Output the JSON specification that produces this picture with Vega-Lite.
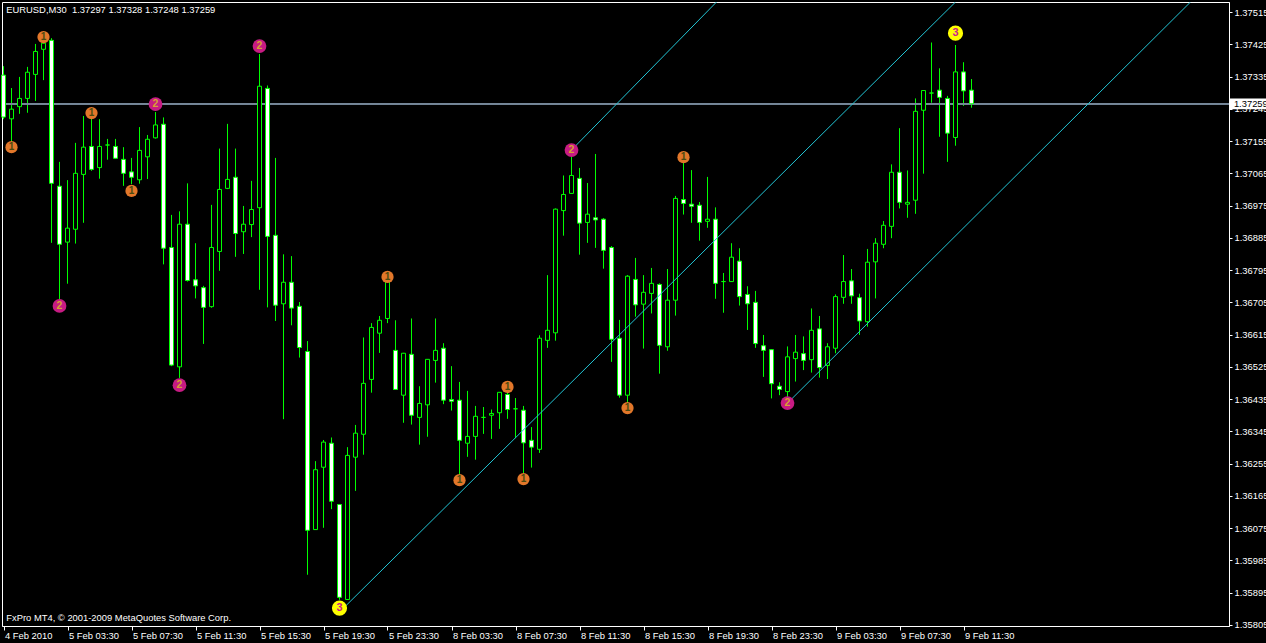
{
"$schema":"https://vega.github.io/schema/vega-lite/v6.json",
"width":1227,"height":624,
"autosize":{"type":"none"},
"padding":{"left":2,"top":2,"right":37,"bottom":17},
"background":"black",
"config":{"view":{"stroke":"white","strokeWidth":1,"fill":"black"},
"axis":{"domainColor":"white","tickColor":"white","labelColor":"white","labelFont":"Liberation Sans","labelFontSize":9.4,"grid":false,"title":null,"labelOverlap":false,"labelFlush":false,"labelBound":false,"labelSeparation":0}},
"datasets":{
"candles":[
{"i":0,"o":1.37339,"h":1.37364,"l":1.37216,"c":1.37222},
{"i":1,"o":1.37217,"h":1.37303,"l":1.37155,"c":1.37244},
{"i":2,"o":1.37251,"h":1.37334,"l":1.37231,"c":1.37274},
{"i":3,"o":1.37274,"h":1.37362,"l":1.37234,"c":1.37347},
{"i":4,"o":1.37341,"h":1.37426,"l":1.37267,"c":1.37405},
{"i":5,"o":1.37411,"h":1.37434,"l":1.37325,"c":1.37428},
{"i":6,"o":1.37436,"h":1.37442,"l":1.36871,"c":1.37037},
{"i":7,"o":1.37029,"h":1.37097,"l":1.36714,"c":1.36867},
{"i":8,"o":1.36873,"h":1.37046,"l":1.36757,"c":1.36912},
{"i":9,"o":1.36909,"h":1.37150,"l":1.36869,"c":1.37065},
{"i":10,"o":1.37062,"h":1.37225,"l":1.36927,"c":1.37138},
{"i":11,"o":1.37140,"h":1.37222,"l":1.37072,"c":1.37076},
{"i":12,"o":1.37081,"h":1.37216,"l":1.37050,"c":1.37140},
{"i":13,"o":1.37144,"h":1.37161,"l":1.37103,"c":1.37144},
{"i":14,"o":1.37140,"h":1.37161,"l":1.37107,"c":1.37107},
{"i":15,"o":1.37104,"h":1.37138,"l":1.37030,"c":1.37065},
{"i":16,"o":1.37069,"h":1.37108,"l":1.37035,"c":1.37054},
{"i":17,"o":1.37047,"h":1.37194,"l":1.37036,"c":1.37129},
{"i":18,"o":1.37111,"h":1.37172,"l":1.37049,"c":1.37160},
{"i":19,"o":1.37164,"h":1.37236,"l":1.37162,"c":1.37200},
{"i":20,"o":1.37202,"h":1.37221,"l":1.36811,"c":1.36856},
{"i":21,"o":1.36858,"h":1.36949,"l":1.36527,"c":1.36530},
{"i":22,"o":1.36525,"h":1.36959,"l":1.36494,"c":1.36923},
{"i":23,"o":1.36923,"h":1.37037,"l":1.36763,"c":1.36766},
{"i":24,"o":1.36768,"h":1.36870,"l":1.36716,"c":1.36751},
{"i":25,"o":1.36746,"h":1.36751,"l":1.36589,"c":1.36691},
{"i":26,"o":1.36693,"h":1.36977,"l":1.36690,"c":1.36858},
{"i":27,"o":1.36847,"h":1.37134,"l":1.36793,"c":1.37020},
{"i":28,"o":1.37023,"h":1.37203,"l":1.37021,"c":1.37048},
{"i":29,"o":1.37054,"h":1.37134,"l":1.36832,"c":1.36897},
{"i":30,"o":1.36902,"h":1.36974,"l":1.36840,"c":1.36923},
{"i":31,"o":1.36922,"h":1.37044,"l":1.36887,"c":1.36964},
{"i":32,"o":1.36969,"h":1.37398,"l":1.36740,"c":1.37308},
{"i":33,"o":1.37302,"h":1.37310,"l":1.36691,"c":1.36889},
{"i":34,"o":1.36892,"h":1.37108,"l":1.36653,"c":1.36697},
{"i":35,"o":1.36701,"h":1.36839,"l":1.36379,"c":1.36761},
{"i":36,"o":1.36761,"h":1.36834,"l":1.36641,"c":1.36689},
{"i":37,"o":1.36694,"h":1.36706,"l":1.36551,"c":1.36579},
{"i":38,"o":1.36568,"h":1.36597,"l":1.35945,"c":1.36069},
{"i":39,"o":1.36071,"h":1.36262,"l":1.36070,"c":1.36238},
{"i":40,"o":1.36245,"h":1.36321,"l":1.36076,"c":1.36315},
{"i":41,"o":1.36312,"h":1.36328,"l":1.36128,"c":1.36150},
{"i":42,"o":1.36141,"h":1.36142,"l":1.35875,"c":1.35882},
{"i":43,"o":1.35876,"h":1.36301,"l":1.35875,"c":1.36278},
{"i":44,"o":1.36273,"h":1.36363,"l":1.36179,"c":1.36340},
{"i":45,"o":1.36337,"h":1.36607,"l":1.36280,"c":1.36479},
{"i":46,"o":1.36490,"h":1.36647,"l":1.36453,"c":1.36635},
{"i":47,"o":1.36619,"h":1.36667,"l":1.36564,"c":1.36655},
{"i":48,"o":1.36660,"h":1.36765,"l":1.36647,"c":1.36762},
{"i":49,"o":1.36571,"h":1.36655,"l":1.36462,"c":1.36462},
{"i":50,"o":1.36446,"h":1.36564,"l":1.36369,"c":1.36563},
{"i":51,"o":1.36560,"h":1.36660,"l":1.36364,"c":1.36390},
{"i":52,"o":1.36384,"h":1.36471,"l":1.36308,"c":1.36423},
{"i":53,"o":1.36419,"h":1.36546,"l":1.36330,"c":1.36546},
{"i":54,"o":1.36543,"h":1.36660,"l":1.36481,"c":1.36571},
{"i":55,"o":1.36577,"h":1.36591,"l":1.36421,"c":1.36432},
{"i":56,"o":1.36434,"h":1.36527,"l":1.36403,"c":1.36429},
{"i":57,"o":1.36432,"h":1.36483,"l":1.36226,"c":1.36320},
{"i":58,"o":1.36312,"h":1.36458,"l":1.36274,"c":1.36331},
{"i":59,"o":1.36331,"h":1.36416,"l":1.36266,"c":1.36387},
{"i":60,"o":1.36384,"h":1.36413,"l":1.36338,"c":1.36384},
{"i":61,"o":1.36390,"h":1.36406,"l":1.36324,"c":1.36395},
{"i":62,"o":1.36397,"h":1.36455,"l":1.36352,"c":1.36454},
{"i":63,"o":1.36448,"h":1.36458,"l":1.36380,"c":1.36406},
{"i":64,"o":1.36408,"h":1.36438,"l":1.36326,"c":1.36408},
{"i":65,"o":1.36404,"h":1.36416,"l":1.36228,"c":1.36313},
{"i":66,"o":1.36320,"h":1.36357,"l":1.36244,"c":1.36301},
{"i":67,"o":1.36295,"h":1.36613,"l":1.36285,"c":1.36605},
{"i":68,"o":1.36599,"h":1.36781,"l":1.36578,"c":1.36627},
{"i":69,"o":1.36620,"h":1.36967,"l":1.36598,"c":1.36965},
{"i":70,"o":1.36961,"h":1.37059,"l":1.36891,"c":1.37006},
{"i":71,"o":1.37009,"h":1.37111,"l":1.37008,"c":1.37059},
{"i":72,"o":1.37051,"h":1.37080,"l":1.36838,"c":1.36926},
{"i":73,"o":1.36928,"h":1.37038,"l":1.36871,"c":1.36951},
{"i":74,"o":1.36941,"h":1.37119,"l":1.36857,"c":1.36935},
{"i":75,"o":1.36937,"h":1.36940,"l":1.36799,"c":1.36850},
{"i":76,"o":1.36858,"h":1.36862,"l":1.36539,"c":1.36602},
{"i":77,"o":1.36605,"h":1.36656,"l":1.36439,"c":1.36446},
{"i":78,"o":1.36446,"h":1.36781,"l":1.36423,"c":1.36778},
{"i":79,"o":1.36769,"h":1.36829,"l":1.36665,"c":1.36698},
{"i":80,"o":1.36700,"h":1.36781,"l":1.36576,"c":1.36733},
{"i":81,"o":1.36730,"h":1.36801,"l":1.36674,"c":1.36758},
{"i":82,"o":1.36755,"h":1.36758,"l":1.36506,"c":1.36585},
{"i":83,"o":1.36581,"h":1.36798,"l":1.36570,"c":1.36711},
{"i":84,"o":1.36711,"h":1.37002,"l":1.36668,"c":1.36995},
{"i":85,"o":1.36992,"h":1.37097,"l":1.36950,"c":1.36981},
{"i":86,"o":1.36979,"h":1.37074,"l":1.36927,"c":1.36973},
{"i":87,"o":1.36976,"h":1.36985,"l":1.36877,"c":1.36928},
{"i":88,"o":1.36931,"h":1.37055,"l":1.36913,"c":1.36937},
{"i":89,"o":1.36937,"h":1.36970,"l":1.36715,"c":1.36758},
{"i":90,"o":1.36763,"h":1.36787,"l":1.36676,"c":1.36763},
{"i":91,"o":1.36763,"h":1.36870,"l":1.36762,"c":1.36831},
{"i":92,"o":1.36820,"h":1.36856,"l":1.36696,"c":1.36721},
{"i":93,"o":1.36727,"h":1.36750,"l":1.36628,"c":1.36701},
{"i":94,"o":1.36705,"h":1.36737,"l":1.36578,"c":1.36590},
{"i":95,"o":1.36584,"h":1.36614,"l":1.36497,"c":1.36571},
{"i":96,"o":1.36573,"h":1.36574,"l":1.36437,"c":1.36478},
{"i":97,"o":1.36471,"h":1.36482,"l":1.36446,"c":1.36462},
{"i":98,"o":1.36456,"h":1.36582,"l":1.36428,"c":1.36553},
{"i":99,"o":1.36548,"h":1.36614,"l":1.36484,"c":1.36566},
{"i":100,"o":1.36562,"h":1.36610,"l":1.36516,"c":1.36543},
{"i":101,"o":1.36545,"h":1.36688,"l":1.36509,"c":1.36627},
{"i":102,"o":1.36631,"h":1.36667,"l":1.36495,"c":1.36523},
{"i":103,"o":1.36529,"h":1.36591,"l":1.36491,"c":1.36581},
{"i":104,"o":1.36577,"h":1.36727,"l":1.36563,"c":1.36721},
{"i":105,"o":1.36719,"h":1.36837,"l":1.36701,"c":1.36763},
{"i":106,"o":1.36765,"h":1.36798,"l":1.36701,"c":1.36723},
{"i":107,"o":1.36718,"h":1.36729,"l":1.36614,"c":1.36653},
{"i":108,"o":1.36651,"h":1.36854,"l":1.36637,"c":1.36817},
{"i":109,"o":1.36818,"h":1.36884,"l":1.36716,"c":1.36870},
{"i":110,"o":1.36867,"h":1.36932,"l":1.36856,"c":1.36920},
{"i":111,"o":1.36917,"h":1.37090,"l":1.36884,"c":1.37068},
{"i":112,"o":1.37068,"h":1.37191,"l":1.36967,"c":1.36984},
{"i":113,"o":1.36979,"h":1.37073,"l":1.36941,"c":1.36984},
{"i":114,"o":1.36990,"h":1.37274,"l":1.36952,"c":1.37238},
{"i":115,"o":1.37241,"h":1.37297,"l":1.37064,"c":1.37296},
{"i":116,"o":1.37289,"h":1.37430,"l":1.37262,"c":1.37289},
{"i":117,"o":1.37297,"h":1.37358,"l":1.37167,"c":1.37277},
{"i":118,"o":1.37274,"h":1.37281,"l":1.37097,"c":1.37177},
{"i":119,"o":1.37165,"h":1.37423,"l":1.37142,"c":1.37348},
{"i":120,"o":1.37348,"h":1.37375,"l":1.37253,"c":1.37295},
{"i":121,"o":1.37297,"h":1.37328,"l":1.37248,"c":1.37259}
],
"markers":[
{"i":1,"p":1.37138,"n":1},{"i":5,"p":1.37445,"n":1},{"i":11,"p":1.37233,"n":1},{"i":16,"p":1.37016,"n":1},{"i":48,"p":1.36776,"n":1},{"i":57,"p":1.36209,"n":1},{"i":63,"p":1.36469,"n":1},{"i":65,"p":1.36212,"n":1},{"i":78,"p":1.36410,"n":1},{"i":85,"p":1.37110,"n":1},
{"i":7,"p":1.36695,"n":2},{"i":19,"p":1.37258,"n":2},{"i":22,"p":1.36474,"n":2},{"i":32,"p":1.37420,"n":2},{"i":71,"p":1.37130,"n":2},{"i":98,"p":1.36424,"n":2},
{"i":42,"p":1.35852,"n":3},{"i":119,"p":1.37456,"n":3}
],
"lines":[
{"g":"A","i":71,"p":1.37130},{"g":"A","i":89.125,"p":1.37543},
{"g":"B","i":42.5,"p":1.35852},{"g":"B","i":119,"p":1.37543},
{"g":"C","i":98,"p":1.36424},{"g":"C","i":148.375,"p":1.37543}
],
"texts":[
{"t":"EURUSD,M30\u00a0 1.37297 1.37328 1.37248 1.37259","x":0.35,"y":1.37511},
{"t":"FxPro MT4, © 2001-2009 MetaQuotes Software Corp.","x":0.35,"y":1.35817}
]
},
"resolve":{"scale":{"color":"independent","size":"independent"}},
"layer":[
{"data":{"name":"candles"},"mark":{"type":"rule","color":"#00FF00","strokeWidth":1},
 "encoding":{
  "x":{"field":"i","type":"quantitative","scale":{"domain":[-0.1875,153.1875],"nice":false,"zero":false,"padding":0},
   "axis":{"orient":"bottom","values":[0,8,16,24,32,40,48,56,64,72,80,88,96,104,112,120],"tickCount":40,
    "labelExpr":"['4 Feb 2010','5 Feb 03:30','5 Feb 07:30','5 Feb 11:30','5 Feb 15:30','5 Feb 19:30','5 Feb 23:30','8 Feb 03:30','8 Feb 07:30','8 Feb 11:30','8 Feb 15:30','8 Feb 19:30','8 Feb 23:30','9 Feb 03:30','9 Feb 07:30','9 Feb 11:30'][round(datum.value/8)]",
    "labelAlign":"left","labelOffset":1,"tickSize":4,"labelPadding":1,"labelOverlap":false,"labelFlush":false,"labelBound":false}},
  "y":{"field":"l","type":"quantitative","scale":{"domain":[1.35802,1.37543],"nice":false,"zero":false,"padding":0},
   "axis":{"orient":"right","values":[1.35805,1.35895,1.35985,1.36075,1.36165,1.36255,1.36345,1.36435,1.36525,1.36615,1.36705,1.36795,1.36885,1.36975,1.37065,1.37155,1.37245,1.37335,1.37425,1.37515],"tickCount":40,
    "format":".5f","tickSize":3,"labelPadding":2,"labelOverlap":false,"labelFlush":false,"labelBound":false}},
  "y2":{"field":"h"}}},
{"data":{"name":"candles"},"mark":{"type":"rule","color":"#778899","strokeWidth":1},
 "encoding":{"y":{"datum":1.37259,"type":"quantitative"}}},
{"data":{"name":"candles"},"mark":{"type":"bar","width":4,"stroke":"#00FF00","strokeWidth":1},
 "encoding":{
  "x":{"field":"i","type":"quantitative"},
  "y":{"field":"o","type":"quantitative"},
  "y2":{"field":"c"},
  "fill":{"condition":{"test":"datum.o > datum.c","value":"#FFFFFF"},"value":"#000000"}}},
{"data":{"name":"lines"},"mark":{"type":"line","color":"#22C4D4","strokeWidth":1,"clip":true},
 "encoding":{"x":{"field":"i","type":"quantitative"},"y":{"field":"p","type":"quantitative"},"detail":{"field":"g"}}},
{"data":{"name":"markers"},"mark":{"type":"point","shape":"circle","filled":true,"opacity":1,"strokeWidth":0},
 "encoding":{"x":{"field":"i","type":"quantitative"},"y":{"field":"p","type":"quantitative"},
  "color":{"field":"n","type":"ordinal","scale":{"domain":[1,2,3],"range":["#E2772A","#C71B83","#FFFF00"]},"legend":null},
  "size":{"field":"n","type":"ordinal","scale":{"domain":[1,2,3],"range":[150,230,530]},"legend":null}}},
{"data":{"name":"markers"},"mark":{"type":"text","font":"Liberation Sans","fontWeight":"bold","align":"center","baseline":"middle"},
 "encoding":{"x":{"field":"i","type":"quantitative"},"y":{"field":"p","type":"quantitative"},
  "text":{"field":"n","type":"nominal"},
  "color":{"field":"n","type":"ordinal","scale":{"domain":[1,2,3],"range":["#4A4A10","#D8A030","#C8208C"]},"legend":null},
  "size":{"field":"n","type":"ordinal","scale":{"domain":[1,2,3],"range":[10,11,19]},"legend":null}}},
{"data":{"name":"texts"},"mark":{"type":"text","font":"Liberation Sans","fontSize":9.4,"color":"white","align":"left","baseline":"alphabetic"},
 "encoding":{"x":{"field":"x","type":"quantitative"},"y":{"field":"y","type":"quantitative"},"text":{"field":"t"}}},
{"data":{"values":[{"k":1}]},"mark":{"type":"rect","fill":"white"},
 "encoding":{"x":{"datum":153.31,"type":"quantitative"},"x2":{"datum":158.4},"y":{"datum":1.37274,"type":"quantitative"},"y2":{"datum":1.37244}}},
{"data":{"values":[{"t":"1.37259"}]},"mark":{"type":"text","font":"Liberation Sans","fontSize":9.4,"color":"black","align":"left","baseline":"middle"},
 "encoding":{"x":{"datum":153.8,"type":"quantitative"},"y":{"datum":1.37259,"type":"quantitative"},"text":{"field":"t"}}}
]
}
